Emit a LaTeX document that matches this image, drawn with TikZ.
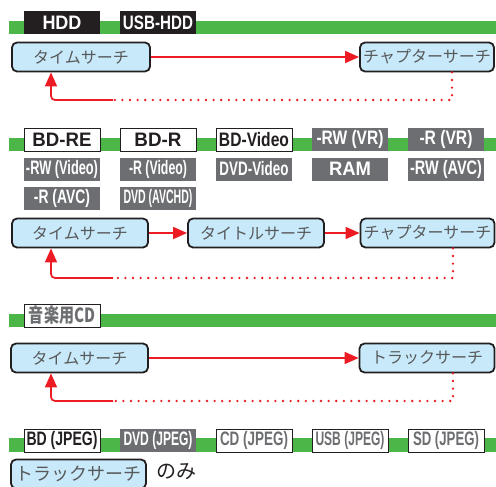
\documentclass[tikz,border=0pt]{standalone}
\usepackage{fontspec}
\setmainfont{Liberation Sans}
\newfontfamily\jp{Noto Sans CJK JP}
\usepackage{graphicx}
\usetikzlibrary{arrows.meta}
\definecolor{grn}{HTML}{4CB748}
\definecolor{gry}{HTML}{6D6E71}
\definecolor{ink}{HTML}{231F20}
\definecolor{txt}{HTML}{58595B}
\definecolor{lb}{HTML}{C7E9F9}
\definecolor{rd}{HTML}{ED1C24}
\newcommand\fit[2]{\resizebox{#1pt}{\height}{#2}}
\begin{document}
\begin{tikzpicture}[x=1pt,y=-1pt,
  lbl/.style={minimum width=76pt,minimum height=23pt,inner sep=0pt,outer sep=0pt,
    font=\fontsize{19.5}{19.5}\selectfont\bfseries},
  lblk/.style={lbl,fill=ink,text=white},
  lgry/.style={lbl,fill=gry,text=white},
  lwht/.style={lbl,fill=white,draw=ink,line width=0.8pt,text=ink},
  lwgr/.style={lbl,fill=white,draw=ink,line width=0.8pt,text=gry},
  search/.style={draw=ink,line width=1.8pt,fill=lb,rounded corners=5pt,
    minimum height=29pt,inner sep=0pt,text=txt,font=\jp\fontsize{16}{16}\selectfont},
  redarr/.style={draw=rd,line width=1.7pt,-{Triangle[length=14pt,width=12pt]}},
  redret/.style={draw=rd,line width=1.7pt,rounded corners=4pt,-{Triangle[length=14pt,width=12pt]}},
  dots/.style={draw=rd,line width=2.6pt,line cap=round,dash pattern=on 0pt off 7.6pt}]
\useasboundingbox (0,0) rectangle (496,487);
\fill[white] (0,0) rectangle (496,487);
% green bars
\fill[grn] (9,21) rectangle (496,34);
\fill[grn] (9,138) rectangle (496,151);
\fill[grn] (9,314) rectangle (496,327);
\fill[grn] (9,438) rectangle (496,452);
% ---------- section 1
\node[lblk] (hdd) at (62,22.5) {\fit{39}{HDD}};
\node[lblk] (usbhdd) at (158,22.5) {\fit{70}{USB-HDD}};
\node[search,minimum width=138pt] (t1) at (81,57) {タイムサーチ};
\node[search,minimum width=134pt] (c1) at (427,57) {チャプターサーチ};
\draw[redarr] (t1) -- (c1);
\coordinate (r1) at (452,100);
\coordinate (m1) at (113,100);
\coordinate (a1) at (51,100);
\draw[dots] (r1 |- c1.south) -- (r1) -- (m1);
\draw[redret] (m1) -- (a1) -- (a1 |- t1.south);
% ---------- section 2
\node[lwht] (bdre) at (62,139.5) {\fit{59}{BD-RE}};
\node[lwht] (bdr) at (158,139.5) {\fit{47}{BD-R}};
\node[lwht] (bdv) at (254,139.5) {\fit{70}{BD-Video}};
\node[lgry] (rwvr) at (350,139.5) {\fit{67}{-RW (VR)}};
\node[lgry] (rvr) at (446,139.5) {\fit{53}{-R (VR)}};
\node[lgry] (rwvid) at (62,169) {\fit{72}{-RW (Video)}};
\node[lgry] (rvid) at (158,169) {\fit{58}{-R (Video)}};
\node[lgry] (dvdv) at (254,169) {\fit{69}{DVD-Video}};
\node[lgry] (ram) at (350,169) {\fit{42}{RAM}};
\node[lgry] (rwavc) at (446,169) {\fit{72}{-RW (AVC)}};
\node[lgry] (ravc) at (62,198.5) {\fit{56}{-R (AVC)}};
\node[lgry] (avchd) at (158,198.5) {\fit{69}{DVD (AVCHD)}};
\node[search,minimum width=136pt] (t2) at (80,233) {タイムサーチ};
\node[search,minimum width=136pt] (ti2) at (256,233) {タイトルサーチ};
\node[search,minimum width=134pt] (c2) at (427.5,233) {チャプターサーチ};
\draw[redarr] (t2) -- (ti2);
\draw[redarr] (ti2) -- (c2);
\coordinate (r2) at (453,278);
\coordinate (m2) at (113,278);
\coordinate (a2) at (51,278);
\draw[dots] (r2 |- c2.south) -- (r2) -- (m2);
\draw[redret] (m2) -- (a2) -- (a2 |- t2.south);
% ---------- section 3
\node[lwgr] (cd) at (62,315.5) {\fit{66}{\jp\bfseries 音楽用CD}};
\node[search,minimum width=137pt] (t3) at (79.5,358) {タイムサーチ};
\node[search,minimum width=135pt] (k3) at (427,358) {トラックサーチ};
\draw[redarr] (t3) -- (k3);
\coordinate (r3) at (453,401);
\coordinate (m3) at (113,401);
\coordinate (a3) at (51,401);
\draw[dots] (r3 |- k3.south) -- (r3) -- (m3);
\draw[redret] (m3) -- (a3) -- (a3 |- t3.south);
% ---------- section 4
\node[lwht] (bdj) at (62,440.5) {\fit{71}{BD (JPEG)}};
\node[lgry] (dvdj) at (158,440.5) {\fit{69}{DVD (JPEG)}};
\node[lwgr] (cdj) at (254,440.5) {\fit{68}{CD (JPEG)}};
\node[lwgr] (usbj) at (350,440.5) {\fit{69}{USB (JPEG)}};
\node[lwgr] (sdj) at (446,440.5) {\fit{66}{SD (JPEG)}};
\node[search,minimum width=135pt,font=\jp\fontsize{18}{18}\selectfont] (k4) at (78.5,474) {トラックサーチ};
\node[anchor=west,inner sep=0pt,text=ink,font=\jp\fontsize{20}{20}\selectfont] (nomi) at (156,472) {のみ};
\end{tikzpicture}
\end{document}
